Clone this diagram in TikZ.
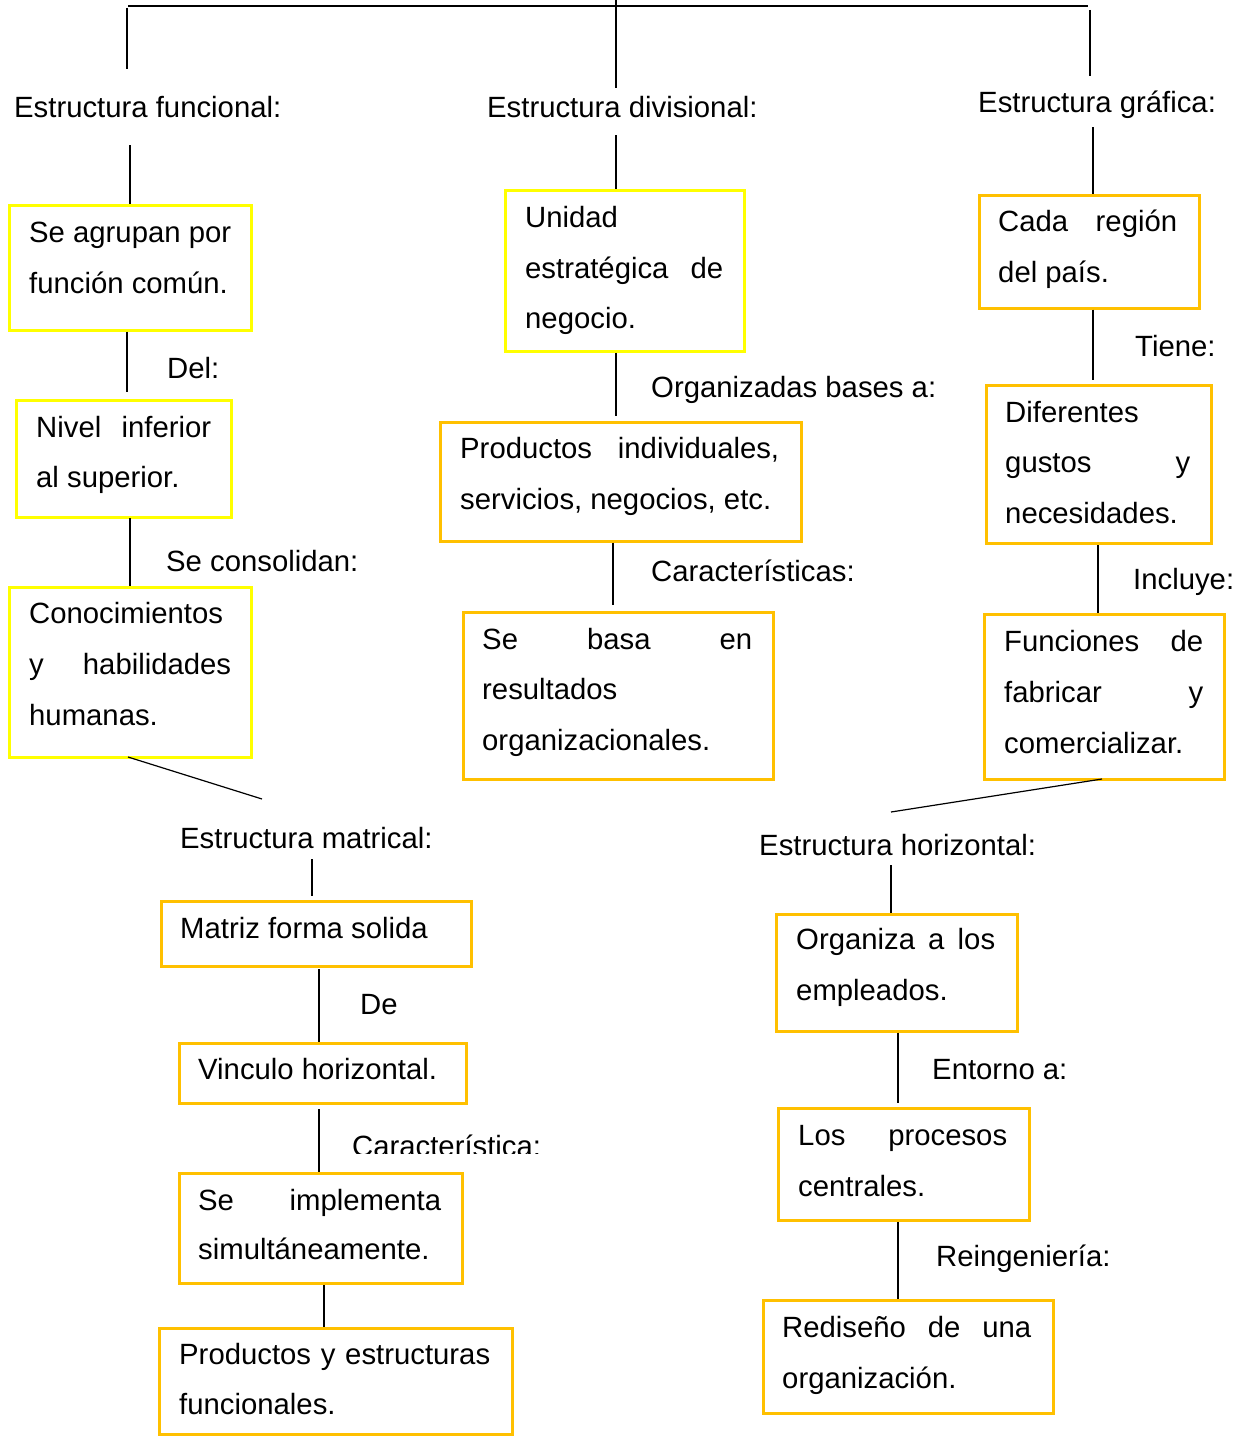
\documentclass[tikz,border=0pt]{standalone}
\usepackage{fontspec}
\setmainfont{Liberation Sans}
\definecolor{yel}{HTML}{FFFF00}
\definecolor{amb}{HTML}{FFC000}
\newcommand{\jl}[2]{\makebox[#1pt][s]{#2}}
\begin{document}
\begin{tikzpicture}[x=1pt,y=-1pt,
  ybox/.style={draw=yel, line width=2.5pt, inner sep=0pt, anchor=north west},
  obox/.style={draw=amb, line width=2.5pt, inner sep=0pt, anchor=north west},
  txt/.style={inner sep=0pt, anchor=base west, font=\fontsize{29.3}{51}\selectfont},
  conn/.style={line width=1.2pt, black}]
\useasboundingbox (0,0) rectangle (1241,1437);

% ---------- top connectors ----------
\coordinate (tl) at (128,6);
\coordinate (tr) at (1088,6);
\coordinate (tm0) at (616,0);
\coordinate (tm1) at (616,88);
\coordinate (l0) at (127,8);
\coordinate (l1) at (127,69);
\coordinate (r0) at (1090,10);
\coordinate (r1) at (1090,76);
\draw[conn] (tl) -- (tr);
\draw[conn] (tm0) -- (tm1);
\draw[conn] (l0) -- (l1);
\draw[conn] (r0) -- (r1);

% ---------- headings ----------
\node[txt] (hf) at (14,117) {Estructura funcional:};
\node[txt] (hd) at (487,117) {Estructura divisional:};
\node[txt] (hg) at (978,112) {Estructura gráfica:};

% ---------- left column ----------
\node[ybox, minimum width=242pt, minimum height=125pt] (b1) at (8,204) {};
\node[txt] (b1a) at (29,242) {Se agrupan por};
\node[txt] (b1b) at (29,293) {función común.};

\node[ybox, minimum width=215pt, minimum height=117pt] (b2) at (15,399) {};
\node[txt] (b2a) at (36,437) {\jl{175}{Nivel inferior}};
\node[txt] (b2b) at (36,487) {al superior.};

\node[ybox, minimum width=242pt, minimum height=170pt] (b3) at (8,586) {};
\node[txt] (b3a) at (29,623) {Conocimientos};
\node[txt] (b3b) at (29,674) {\jl{202}{y habilidades}};
\node[txt] (b3c) at (29,725) {humanas.};

\node[txt] (lbdel) at (167,378) {Del:};
\node[txt] (lbcon) at (166,571) {Se consolidan:};

\coordinate (f0) at (130,145);
\draw[conn] (f0) -- (f0 |- b1.north);
\coordinate (f1) at (127,392);
\draw[conn] (f1 |- b1.south) -- (f1);
\coordinate (f2) at (130,518);
\draw[conn] (f2) -- (f2 |- b3.north);

% ---------- middle column ----------
\node[ybox, minimum width=239pt, minimum height=161pt] (m1) at (504,189) {};
\node[txt] (m1a) at (525,227) {Unidad};
\node[txt] (m1b) at (525,278) {\jl{198}{estratégica de}};
\node[txt] (m1c) at (525,328) {negocio.};

\node[obox, minimum width=361pt, minimum height=119pt] (m2) at (439,421) {};
\node[txt] (m2a) at (460,458) {\jl{319}{Productos individuales,}};
\node[txt] (m2b) at (460,509) {servicios, negocios, etc.};

\node[obox, minimum width=310pt, minimum height=167pt] (m3) at (462,611) {};
\node[txt] (m3a) at (482,649) {\jl{270}{Se basa en}};
\node[txt] (m3b) at (482,699) {resultados};
\node[txt] (m3c) at (482,750) {organizacionales.};

\node[txt] (lborg) at (651,397) {Organizadas bases a:};
\node[txt] (lbcar) at (651,581) {Características:};

\coordinate (d0) at (616,135);
\draw[conn] (d0) -- (d0 |- m1.north);
\coordinate (d1) at (616,416);
\draw[conn] (d1 |- m1.south) -- (d1);
\coordinate (d2) at (613,605);
\draw[conn] (d2 |- m2.south) -- (d2);

% ---------- right column ----------
\node[obox, minimum width=220pt, minimum height=113pt] (g1) at (978,194) {};
\node[txt] (g1a) at (998,231) {\jl{179}{Cada región}};
\node[txt] (g1b) at (998,282) {del país.};

\node[obox, minimum width=225pt, minimum height=158pt] (g2) at (985,384) {};
\node[txt] (g2a) at (1005,422) {Diferentes};
\node[txt] (g2b) at (1005,472) {\jl{185}{gustos y}};
\node[txt] (g2c) at (1005,523) {necesidades.};

\node[obox, minimum width=240pt, minimum height=165pt] (g3) at (983,613) {};
\node[txt] (g3a) at (1004,651) {\jl{199}{Funciones de}};
\node[txt] (g3b) at (1004,702) {\jl{199}{fabricar y}};
\node[txt] (g3c) at (1004,753) {comercializar.};

\node[txt] (lbtie) at (1135,356) {Tiene:};
\node[txt] (lbinc) at (1133,589) {Incluye:};

\coordinate (e0) at (1093,127);
\draw[conn] (e0) -- (e0 |- g1.north);
\coordinate (e1) at (1093,380);
\draw[conn] (e1 |- g1.south) -- (e1);
\coordinate (e2) at (1098,545);
\draw[conn] (e2) -- (e2 |- g3.north);

% ---------- matrical ----------
\coordinate (x0) at (128,757);
\coordinate (x1) at (262,799);
\draw[conn] (x0) -- (x1);
\node[txt] (hm) at (180,848) {Estructura matrical:};

\node[obox, minimum width=310pt, minimum height=65pt] (p1) at (160,900) {};
\node[txt] (p1a) at (180,938) {Matriz forma solida};

\node[obox, minimum width=287pt, minimum height=60pt] (p2) at (178,1042) {};
\node[txt] (p2a) at (198,1079) {Vinculo horizontal.};

\node[obox, minimum width=283pt, minimum height=110pt] (p3) at (178,1172) {};
\node[txt] (p3a) at (198,1210) {\jl{243}{Se implementa}};
\node[txt] (p3b) at (198,1259) {simultáneamente.};

\node[obox, minimum width=353pt, minimum height=106pt] (p4) at (158,1327) {};
\node[txt] (p4a) at (179,1364) {\jl{311}{Productos y estructuras}};
\node[txt] (p4b) at (179,1414) {funcionales.};

\node[txt] (lbde) at (360,1014) {De};
\begin{scope}
\clip (340,1100) rectangle (560,1153);
\node[txt] (lbcrt) at (352,1156) {Característica:};
\end{scope}

\coordinate (k0) at (312,859);
\coordinate (k1) at (312,896);
\draw[conn] (k0) -- (k1);
\coordinate (k2) at (319,969);
\draw[conn] (k2) -- (k2 |- p2.north);
\coordinate (k3) at (319,1109);
\draw[conn] (k3) -- (k3 |- p3.north);
\coordinate (k4) at (324,1285);
\draw[conn] (k4) -- (k4 |- p4.north);

% ---------- horizontal ----------
\coordinate (y0) at (1102,779);
\coordinate (y1) at (891,812);
\draw[conn] (y0) -- (y1);
\node[txt] (hh) at (759,855) {Estructura horizontal:};

\node[obox, minimum width=241pt, minimum height=117pt] (q1) at (775,913) {};
\node[txt] (q1a) at (796,949) {\jl{199}{Organiza a los}};
\node[txt] (q1b) at (796,1000) {empleados.};

\node[obox, minimum width=251pt, minimum height=112pt] (q2) at (777,1107) {};
\node[txt] (q2a) at (798,1145) {\jl{209}{Los procesos}};
\node[txt] (q2b) at (798,1196) {centrales.};

\node[obox, minimum width=290pt, minimum height=113pt] (q3) at (762,1299) {};
\node[txt] (q3a) at (782,1337) {\jl{249}{Rediseño de una}};
\node[txt] (q3b) at (782,1388) {organización.};

\node[txt] (lbent) at (932,1079) {Entorno a:};
\node[txt] (lbrei) at (936,1266) {Reingeniería:};

\coordinate (z0) at (891,865);
\draw[conn] (z0) -- (z0 |- q1.north);
\coordinate (z1) at (898,1103);
\draw[conn] (z1 |- q1.south) -- (z1);
\coordinate (z2) at (898,1222);
\draw[conn] (z2) -- (z2 |- q3.north);
\end{tikzpicture}
\end{document}
